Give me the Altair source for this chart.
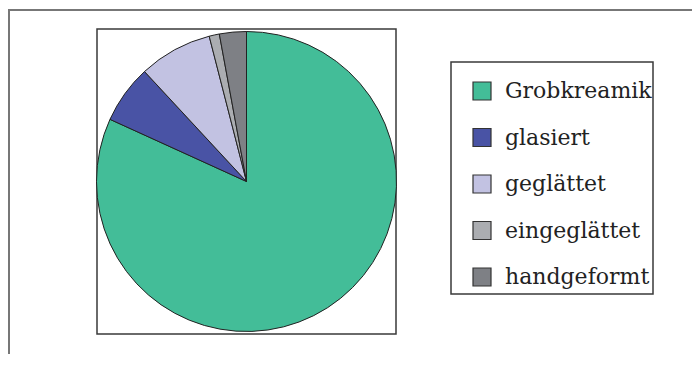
import altair as alt
import pandas as pd

categories = ["Grobkreamik", "glasiert", "geglättet", "eingeglättet", "handgeformt"]
shares = [81.8, 6.3, 7.9, 1.1, 2.9]
colors = ["#43BD98", "#4953A5", "#C2C2E2", "#ABADB1", "#7E8085"]

df = pd.DataFrame({"kat": categories, "anteil": shares, "idx": list(range(len(categories)))})
one = pd.DataFrame({"k": [0]})

W, H = 299, 305
PL, PT = 89, 21

outer = alt.Chart(one).mark_rect(fill=None, stroke="#777777", strokeWidth=2).encode(
    x=alt.value(-88), x2=alt.value(800), y=alt.value(-19), y2=alt.value(400)
)

legend_box = alt.Chart(one).mark_rect(fill=None, stroke="#3a3a3a", strokeWidth=1.5).encode(
    x=alt.value(354), x2=alt.value(556), y=alt.value(33), y2=alt.value(265)
)

pie = alt.Chart(df).mark_arc(radius=150, stroke="#222222", strokeWidth=1).encode(
    theta=alt.Theta("anteil:Q", stack=True),
    order=alt.Order("idx:Q"),
    color=alt.Color(
        "kat:N",
        scale=alt.Scale(domain=categories, range=colors),
        legend=alt.Legend(
            title=None,
            orient="none",
            legendX=374,
            legendY=51,
            padding=0,
            symbolType="square",
            symbolSize=324,
            symbolStrokeColor="#333333",
            symbolStrokeWidth=1.2,
            symbolOpacity=1,
            labelFont="DejaVu Serif",
            labelFontSize=22,
            labelColor="#222222",
            labelOffset=12,
            rowPadding=22.5,
            labelLimit=300,
        ),
    ),
)

chart = alt.layer(outer, legend_box, pie).properties(
    width=W,
    height=H,
    autosize=alt.AutoSizeParams(type="none"),
    padding={"left": PL, "top": PT, "right": 684 - PL - W, "bottom": 346 - PT - H},
    background="white",
).configure_view(stroke="#3a3a3a", strokeWidth=1.5)

chart.save("out.html", embed_options={"renderer": "svg", "actions": False})
